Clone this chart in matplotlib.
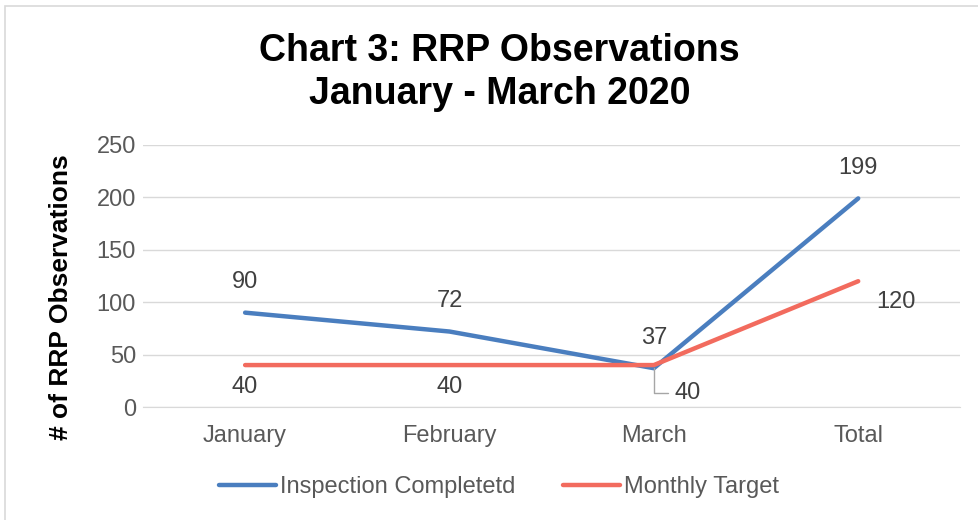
import matplotlib
matplotlib.use("Agg")
import matplotlib.pyplot as plt
from matplotlib.patches import Rectangle

plt.rcParams["font.family"] = ["Liberation Sans", "DejaVu Sans"]

categories = ["January", "February", "March", "Total"]
completed = [90, 72, 37, 199]
target = [40, 40, 40, 120]
y_ticks = [0, 50, 100, 150, 200, 250]

BLUE = "#4A7EBF"
RED = "#F26B5E"
GRAY = "#595959"

fig = plt.figure(figsize=(9.79, 5.20), dpi=100)
ax = fig.add_axes([0.146, 0.2173, 0.835, 0.504])

x = list(range(len(categories)))
ax.plot(x, completed, color=BLUE, lw=3.2, solid_capstyle="round", label="Inspection Completetd", zorder=3)
ax.plot(x, target, color=RED, lw=3.2, solid_capstyle="round", label="Monthly Target", zorder=4)

ax.set_xlim(-0.5, len(categories) - 0.5)
ax.set_ylim(0, 250)
ax.set_yticks(y_ticks)
ax.set_xticks(x)
ax.set_xticklabels(categories)
ax.grid(axis="y", color="#D9D9D9", lw=1.0)
ax.set_axisbelow(True)
for s in ["top", "right", "left"]:
    ax.spines[s].set_visible(False)
ax.spines["bottom"].set_color("#D9D9D9")
ax.tick_params(axis="both", length=0, labelsize=17, colors=GRAY)
ax.tick_params(axis="y", pad=5)
ax.tick_params(axis="x", pad=13)

ax.set_ylabel("# of RRP Observations", fontsize=19, fontweight="bold")
ax.yaxis.set_label_coords(-0.086, 0.42)

lbl = dict(fontsize=17, color="#404040", ha="center", va="center")
# completed labels above points
for i in range(len(completed)):
    ax.annotate(str(completed[i]), (x[i], completed[i]), xytext=(0, 22), textcoords="offset points", **lbl)
# target labels
for i in range(2):
    ax.annotate(str(target[i]), (x[i], target[i]), xytext=(0, -16), textcoords="offset points", **lbl)
ax.annotate(str(target[2]), (x[2], target[2]), xytext=(24.5, -20), textcoords="offset points",
            arrowprops=dict(arrowstyle="-", color="#A6A6A6", lw=1,
                            connectionstyle="angle,angleA=0,angleB=90,rad=0",
                            shrinkA=3, shrinkB=2), **lbl)
ax.annotate(str(target[3]), (x[3], target[3]), xytext=(27, -15), textcoords="offset points", **lbl)

fig.text(0.51, 0.901, "Chart 3: RRP Observations", ha="center", va="center",
         fontsize=27, fontweight="bold", color="black")
fig.text(0.51, 0.82, "January - March 2020", ha="center", va="center",
         fontsize=27, fontweight="bold", color="black")

leg = fig.legend(loc="center", bbox_to_anchor=(0.51, 0.063), ncol=2, frameon=False,
                 fontsize=17, handlelength=2.4, handletextpad=0.2, columnspacing=2.0)
for t in leg.get_texts():
    t.set_color(GRAY)

fig.patches.append(Rectangle((5 / 979, -0.1), 1.2, 1.1 - 6 / 520,
                             transform=fig.transFigure, fill=False,
                             edgecolor="#D9D9D9", lw=1.2))

fig.savefig("out.png", dpi=100)
